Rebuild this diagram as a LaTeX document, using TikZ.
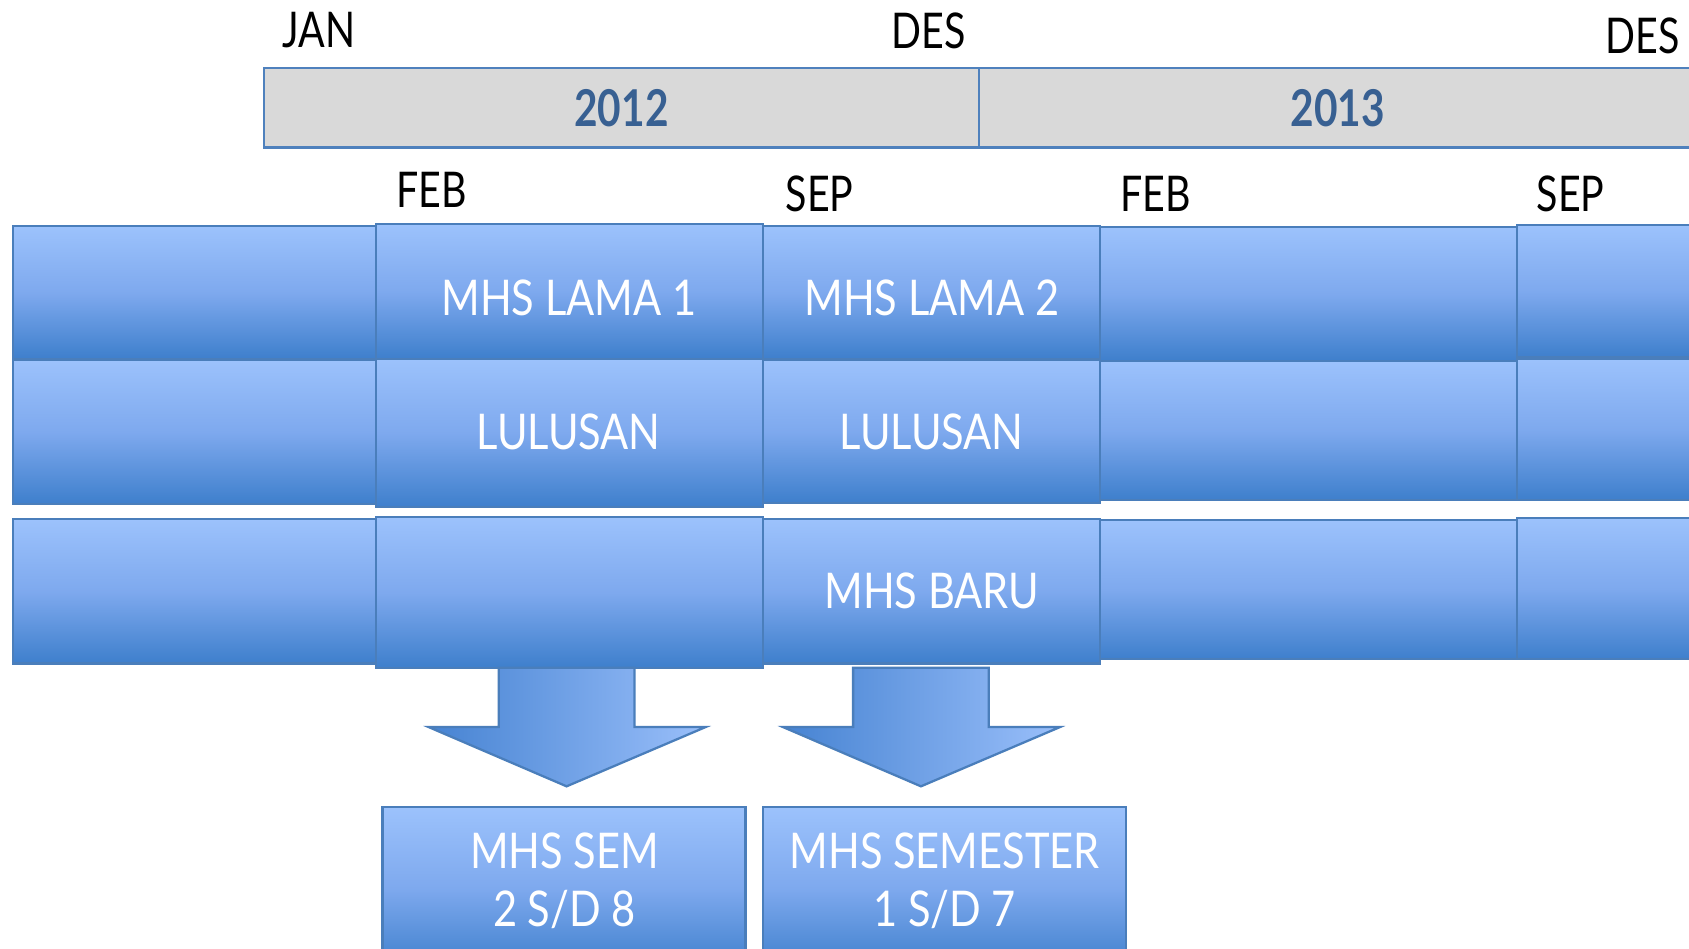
\documentclass[tikz,border=0pt]{standalone}
\usepackage{fontspec}
\setmainfont[FakeStretch=0.8]{Lato}
\newfontfamily\wfont[FakeStretch=0.845]{Lato}
\definecolor{bordblue}{RGB}{74,126,187}
\definecolor{toplt}{RGB}{156,194,252}
\definecolor{midbl}{RGB}{126,169,238}
\definecolor{botdk}{RGB}{62,127,204}
\definecolor{arrdk}{RGB}{70,131,210}
\definecolor{arrlt}{RGB}{154,191,250}
\definecolor{yearblue}{RGB}{56,96,146}
\definecolor{graybar}{RGB}{217,217,217}
\definecolor{yearbord}{RGB}{79,129,189}
\tikzset{
  blk/.style={draw=bordblue, line width=0.6pt, top color=toplt, bottom color=botdk, middle color=midbl},
  arr/.style={draw=bordblue, line width=0.6pt, left color=arrdk, right color=arrlt},
  yearcell/.style={draw=yearbord, line width=0.7pt, fill=graybar},
  lbl/.style={font=\wfont\fontsize{13}{15}\selectfont, text=white, anchor=base, inner sep=0pt},
  month/.style={font=\fontsize{13}{15}\selectfont, text=black, anchor=base, inner sep=0pt},
  yr/.style={font=\fontsize{13.4}{15}\selectfont\bfseries, text=yearblue, anchor=base, inner sep=0pt}
}
\begin{document}
\begin{tikzpicture}[x=0.01cm,y=-0.01cm]
\clip (0,0) rectangle (1568,881);
\fill[white] (0,0) rectangle (1568,881);
% year bar
\path[yearcell] (245,63) rectangle (909,137);
\path[yearcell] (909,63) rectangle (1600,137);
\node[yr] (y2012) at (577,117) {2012};
\node[yr] (y2013) at (1242,117) {2013};
% month labels
\node[month] (jan) at (296,44) {JAN};
\node[month] (des1) at (862,45) {DES};
\node[month] (des2) at (1525,50) {DES};
\node[month] (feb1) at (401,193) {FEB};
\node[month] (sep1) at (761,196) {SEP};
\node[month] (feb2) at (1073,196) {FEB};
\node[month] (sep2) at (1458,196) {SEP};
% rows: column 0
\path[blk] (12,210) rectangle (349,333);
\path[blk] (12,334) rectangle (349,468);
\path[blk] (12,482) rectangle (349,616);
% column 2
\path[blk] (708,210) rectangle (1021,333);
\path[blk] (708,334) rectangle (1021,467);
\path[blk] (708,482) rectangle (1021,616);
% column 3
\path[blk] (1021,211) rectangle (1408,335);
\path[blk] (1021,335) rectangle (1408,464);
\path[blk] (1021,483) rectangle (1408,612);
% column 4
\path[blk] (1408,209) rectangle (1600,332);
\path[blk] (1408,333) rectangle (1600,464);
\path[blk] (1408,481) rectangle (1600,612);
% column 1
\path[blk] (349,208) rectangle (708,333);
\path[blk] (349,333) rectangle (708,471);
\path[blk] (349,480) rectangle (708,620);
% row labels
\node[lbl] (lama1) at (528,293) {MHS LAMA 1};
\node[lbl] (lama2) at (865,293) {MHS LAMA 2};
\node[lbl] (lul1) at (528,417) {LULUSAN};
\node[lbl] (lul2) at (865,417) {LULUSAN};
\node[lbl] (baru) at (865,565) {MHS BARU};
% arrows
\path[arr] (463,620) -- (589,620) -- (589,675) -- (655,675) -- (526,730) -- (398,675) -- (463,675) -- cycle;
\path[arr] (792,620) -- (918,620) -- (918,675) -- (984,675) -- (855,730) -- (727,675) -- (792,675) -- cycle;
% bottom boxes
\path[blk] (355,749) rectangle (692,900);
\path[blk] (708,749) rectangle (1045,900);
\node[lbl] (sem1a) at (524,806) {MHS SEM};
\node[lbl] (sem1b) at (524,860) {2 S/D 8};
\node[lbl] (sem2a) at (877,806) {MHS SEMESTER};
\node[lbl] (sem2b) at (877,860) {1 S/D 7};
\end{tikzpicture}
\end{document}
